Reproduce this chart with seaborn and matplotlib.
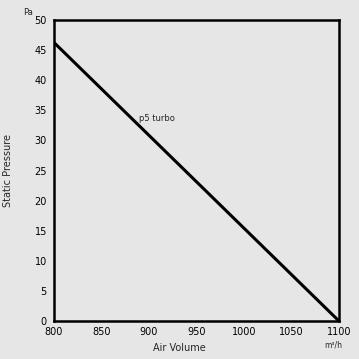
import numpy as np
import pandas as pd
import matplotlib
matplotlib.use("Agg")
import matplotlib.pyplot as plt
import seaborn as sns

# curve data
air_volume = [800, 1100]
static_pressure = [46.3, 0.0]
series_name = "p5 turbo"

x_ticks = [800, 850, 900, 950, 1000, 1050, 1100]
y_ticks = [0, 5, 10, 15, 20, 25, 30, 35, 40, 45, 50]

df = pd.DataFrame({"Air Volume": air_volume, "Static Pressure": static_pressure})

sns.set_style("white")
plt.rcParams["font.family"] = ["DejaVu Sans"]

bg = "#e6e6e6"
fig = plt.figure(figsize=(3.59, 3.59), dpi=100, facecolor=bg)
ax = fig.add_axes([0.150, 0.106, 0.794, 0.838], facecolor=bg)

sns.lineplot(data=df, x="Air Volume", y="Static Pressure", color="black",
             linewidth=2.2, ax=ax)

ax.set_xlim(800, 1100)
ax.set_ylim(0, 50)
ax.set_xticks(x_ticks)
ax.set_yticks(y_ticks)
ax.tick_params(axis="both", labelsize=7, length=2, direction="in",
               color="#bbbbbb", labelcolor="black")
ax.tick_params(axis="x", pad=4)
ax.tick_params(axis="y", pad=5)
for s in ax.spines.values():
    s.set_linewidth(1.8)
    s.set_color("black")

ax.set_xlabel("")
ax.set_ylabel("")
fig.text(0.50, 0.018, "Air Volume", fontsize=7, ha="center", va="bottom")
fig.text(0.022, 0.525, "Static Pressure", fontsize=7, rotation=90,
         ha="center", va="center")
fig.text(0.078, 0.965, "Pa", fontsize=6, ha="center", va="center")
fig.text(0.928, 0.040, "m³/h", fontsize=5.5, ha="center", va="center")

ax.text(909, 33.6, series_name, fontsize=6, ha="center", va="center")

fig.savefig("out.png", dpi=100, facecolor=bg)
